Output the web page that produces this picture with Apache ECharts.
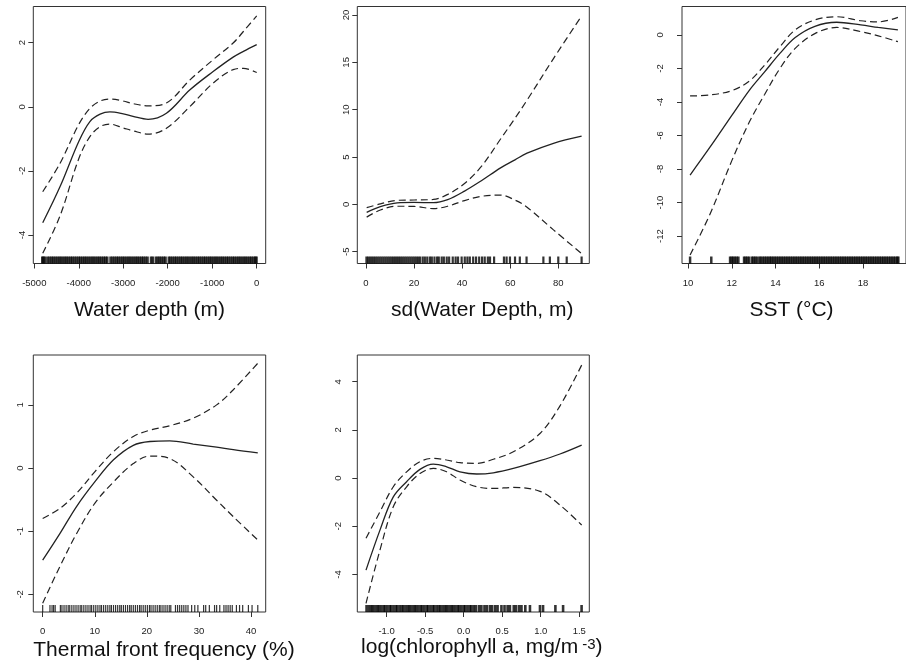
<!DOCTYPE html>
<html><head><meta charset="utf-8">
<script src="https://cdn.jsdelivr.net/npm/echarts@6/dist/echarts.min.js"></script>
<style>html,body{margin:0;padding:0;background:#fff}#c{width:906px;height:666px}</style>
</head><body><div id="c"></div>
<script>
// ---------- Panel 1: Water depth ----------
const depthX     = [-4810, -4420, -4000, -3750, -3520, -3300, -3000, -2780, -2440, -2030, -1500, -980, -530, -300, 0];
const depthFit   = [-3.62, -2.49, -1.08, -0.46, -0.23, -0.16, -0.22, -0.30, -0.39, -0.20, 0.53, 1.10, 1.55, 1.73, 1.94];
const depthUpper = [-2.65, -1.76, -0.55, -0.05, 0.18, 0.24, 0.18, 0.10, 0.03, 0.12, 0.84, 1.47, 1.99, 2.35, 2.84];
const depthLower = [-4.57, -3.40, -1.62, -0.93, -0.62, -0.54, -0.66, -0.75, -0.85, -0.67, 0.01, 0.74, 1.16, 1.20, 1.07];
const depthRug   = [-4820,-4795,-4765,-4705,-4660,-4615,-4575,-4530,-4485,-4440,-4400,-4355,-4310,-4270,-4225,-4180,-4140,-4095,-4050,-4005,-3965,-3920,-3875,-3835,-3790,-3745,-3700,-3660,-3615,-3570,-3530,-3485,-3440,-3400,-3360,-3285,-3240,-3195,-3150,-3110,-3065,-3020,-2980,-2935,-2890,-2850,-2805,-2760,-2715,-2675,-2630,-2585,-2545,-2500,-2455,-2375,-2335,-2265,-2220,-2180,-2135,-2090,-2050,-1975,-1935,-1890,-1845,-1805,-1760,-1715,-1675,-1630,-1585,-1545,-1500,-1455,-1415,-1370,-1325,-1285,-1240,-1195,-1155,-1110,-1065,-1025,-980,-935,-895,-850,-805,-765,-720,-675,-635,-590,-545,-505,-460,-415,-375,-330,-285,-245,-200,-155,-115,-70,-30,-5];
const depthXTicks = [-5000, -4000, -3000, -2000, -1000, 0];
const depthYTicks = [-4, -2, 0, 2];

// ---------- Panel 2: sd(Water Depth) ----------
const sdX     = [0.3, 6, 13, 20, 28, 34, 41, 48, 56, 62, 67, 78, 89.7];
const sdFit   = [-0.85, -0.25, 0.15, 0.20, 0.18, 0.50, 1.40, 2.50, 3.85, 4.70, 5.40, 6.45, 7.20];
const sdUpper = [-0.35, 0.05, 0.42, 0.46, 0.52, 1.05, 2.20, 4.00, 6.90, 9.10, 11.0, 15.4, 19.9];
const sdLower = [-1.35, -0.60, -0.20, -0.22, -0.45, -0.20, 0.40, 0.85, 0.97, 0.45, -0.30, -2.70, -5.20];
const sdRug   = [0.2,0.9,1.7,2.5,3.3,4.1,4.9,5.7,6.5,7.3,8.1,8.9,9.7,10.5,11.3,12.1,12.9,13.7,14.5,15.3,16.1,16.9,17.7,18.5,19.3,20.1,20.9,21.7,22.5,23.6,24.5,25.5,26.6,27.4,28.5,29.6,30.3,31.5,32.4,33.6,34.6,36.1,37.3,38.3,39.8,41.1,42.2,43.2,44.6,45.8,47.1,48.3,49.4,50.7,51.6,53.3,57.4,58.5,59.9,62,64,66.8,73.8,76.5,80,83.5,89.7];
const sdXTicks = [0, 20, 40, 60, 80];
const sdYTicks = [-5, 0, 5, 10, 15, 20];

// ---------- Panel 3: SST ----------
const sstX     = [10.09, 11, 12, 12.8, 13.5, 14.2, 14.9, 15.8, 16.8, 17.9, 18.7, 19.6];
const sstFit   = [-8.36, -6.70, -4.80, -3.30, -2.20, -1.10, -0.15, 0.52, 0.76, 0.60, 0.45, 0.30];
const sstUpper = [-3.64, -3.58, -3.32, -2.75, -1.80, -0.70, 0.30, 0.90, 1.09, 0.85, 0.78, 1.05];
const sstLower = [-13.13, -10.70, -7.50, -5.20, -3.55, -2.00, -0.80, 0.08, 0.45, 0.20, -0.05, -0.40];
const sstRug   = [10.09,11.06,11.92,11.99,12.06,12.14,12.22,12.3,12.56,12.63,12.71,12.79,12.92,12.99,13.07,13.15,13.26,13.33,13.42,13.5,13.58,13.66,13.74,13.81,13.89,13.97,14.05,14.13,14.21,14.29,14.37,14.45,14.53,14.61,14.69,14.77,14.85,14.93,15.01,15.09,15.17,15.25,15.33,15.41,15.49,15.57,15.65,15.73,15.81,15.89,15.97,16.05,16.13,16.21,16.29,16.37,16.45,16.53,16.61,16.69,16.77,16.85,16.93,17.01,17.09,17.17,17.25,17.33,17.41,17.49,17.57,17.65,17.73,17.81,17.89,17.97,18.05,18.13,18.21,18.29,18.37,18.45,18.53,18.61,18.69,18.77,18.85,18.93,19.01,19.09,19.17,19.25,19.33,19.41,19.49,19.57,19.62];
const sstXTicks = [10, 12, 14, 16, 18];
const sstYTicks = [-12, -10, -8, -6, -4, -2, 0];

// ---------- Panel 4: Thermal front frequency ----------
const tffX     = [0, 3.3, 6.5, 10, 13.6, 17.4, 20.6, 24.4, 28.9, 33.4, 36.6, 41.3];
const tffFit   = [-1.46, -1.04, -0.61, -0.22, 0.13, 0.36, 0.42, 0.43, 0.38, 0.33, 0.29, 0.24];
const tffUpper = [-0.80, -0.64, -0.40, -0.06, 0.26, 0.50, 0.60, 0.67, 0.79, 1.00, 1.24, 1.66];
const tffLower = [-2.14, -1.56, -1.04, -0.56, -0.22, 0.07, 0.19, 0.15, -0.14, -0.51, -0.77, -1.14];
const tffRug   = [0,1.4,1.8,2.1,2.4,3.4,3.7,4.1,4.5,4.9,5.2,5.6,6,6.4,6.8,7.2,7.5,7.9,8.3,8.7,9.1,9.4,9.8,10.2,10.6,11,11.3,11.7,12.1,12.5,12.9,13.2,13.6,14,14.4,14.8,15.1,15.5,15.9,16.3,16.7,17,17.4,17.8,18.2,18.6,18.9,19.3,19.7,20.1,20.5,20.8,21.2,21.6,22,22.4,22.7,23.1,23.5,23.9,24.3,24.6,25.5,25.9,26.3,26.7,27.1,27.5,27.9,28.6,29.2,29.8,30.9,31.3,32,33,33.4,34,34.8,35.2,35.6,36,36.4,37.2,37.8,38.4,39.5,40.2,41.3];
const tffXTicks = [0, 10, 20, 30, 40];
const tffYTicks = [-2, -1, 0, 1];

// ---------- Panel 5: log(chlorophyll a) ----------
const chlX     = [-1.267, -1.086, -0.913, -0.74, -0.567, -0.394, -0.221, -0.048, 0.169, 0.385, 0.644, 0.99, 1.25, 1.531];
const chlFit   = [-3.82, -2.16, -0.78, -0.15, 0.36, 0.58, 0.47, 0.26, 0.17, 0.22, 0.40, 0.72, 1.00, 1.37];
const chlUpper = [-2.50, -1.40, -0.36, 0.26, 0.68, 0.82, 0.75, 0.64, 0.61, 0.78, 1.09, 1.85, 3.00, 4.69];
const chlLower = [-5.20, -2.99, -1.19, -0.36, 0.19, 0.40, 0.26, -0.08, -0.36, -0.43, -0.39, -0.55, -1.12, -1.95];
const chlRug   = [-1.26,-1.23,-1.2,-1.18,-1.15,-1.12,-1.1,-1.07,-1.04,-1.02,-0.99,-0.96,-0.94,-0.91,-0.88,-0.86,-0.83,-0.8,-0.78,-0.75,-0.72,-0.7,-0.67,-0.64,-0.62,-0.59,-0.56,-0.54,-0.51,-0.48,-0.46,-0.43,-0.4,-0.38,-0.35,-0.32,-0.3,-0.27,-0.24,-0.22,-0.19,-0.16,-0.14,-0.11,-0.08,-0.06,-0.03,0,0.02,0.05,0.08,0.1,0.13,0.16,0.2,0.23,0.27,0.3,0.34,0.37,0.41,0.44,0.49,0.53,0.57,0.6,0.65,0.68,0.72,0.75,0.8,0.86,0.99,1.03,1.19,1.29,1.53];
const chlXTicks = [-1.0, -0.5, 0.0, 0.5, 1.0, 1.5];
const chlYTicks = [-4, -2, 0, 2, 4];

const FONT = '"Liberation Sans", Arial, Helvetica, sans-serif';

const panels = [
  { x: depthX, fit: depthFit, up: depthUpper, lo: depthLower, rug: depthRug, xTicks: depthXTicks, yTicks: depthYTicks,
    name: 'Water depth (m)', grid: { left: 33.3, top: 6.5, width: 232.4, height: 257 },
    xMin: -5022, xMax: 202, yMin: -4.89, yMax: 3.13, yMargin: 6, xMargin: 15, nameGap: 36, namePad: [0, 0, 0, 0], rugW: 2.6 },
  { x: sdX, fit: sdFit, up: sdUpper, lo: sdLower, rug: sdRug, xTicks: sdXTicks, yTicks: sdYTicks,
    name: 'sd(Water Depth, m)', grid: { left: 357.3, top: 6.5, width: 232, height: 257 },
    xMin: -3.6, xMax: 92.9, yMin: -6.25, yMax: 20.9, yMargin: 6, xMargin: 15, nameGap: 36, namePad: [0, 0, 0, 18], rugW: 2.2 },
  { x: sstX, fit: sstFit, up: sstUpper, lo: sstLower, rug: sstRug, xTicks: sstXTicks, yTicks: sstYTicks,
    name: 'SST (°C)', grid: { left: 682, top: 6.5, width: 232, height: 257 },
    xMin: 9.72, xMax: 19.97, yMin: -13.64, yMax: 1.70, yMargin: 17, xMargin: 15, nameGap: 36, namePad: [0, 5, 0, 0], rugW: 2.5 },
  { x: tffX, fit: tffFit, up: tffUpper, lo: tffLower, rug: tffRug, xTicks: tffXTicks, yTicks: tffYTicks,
    name: 'Thermal front frequency (%)', grid: { left: 33.3, top: 355, width: 232.4, height: 257 },
    xMin: -1.8, xMax: 42.82, yMin: -2.28, yMax: 1.79, yMargin: 7.5, xMargin: 14, nameGap: 28, namePad: [0, 0, 0, 29], rugW: 1.2 },
  { x: chlX, fit: chlFit, up: chlUpper, lo: chlLower, rug: chlRug, xTicks: chlXTicks, yTicks: chlYTicks,
    name: 'log(chlorophyll a, mg/m{sup|-3})', grid: { left: 357.3, top: 355, width: 232, height: 257 },
    xMin: -1.38, xMax: 1.63, yMin: -5.56, yMax: 5.11, yMargin: 14, xMargin: 14, nameGap: 21, namePad: [0, 0, 0, 17], rugW: 2.6,
    xFmt: v => v.toFixed(1), rich: { sup: { fontSize: 15, verticalAlign: 'top', padding: [0, 0, 0, 4], fontFamily: FONT, color: '#111' } } }
];

const grids = [], xAxes = [], yAxes = [], series = [];
panels.forEach((p, i) => {
  grids.push(Object.assign({ show: true, borderColor: '#333', borderWidth: 1, backgroundColor: 'transparent' }, p.grid));
  const nts = { fontSize: 21, color: '#111', fontFamily: FONT, padding: p.namePad };
  if (p.rich) nts.rich = p.rich;
  xAxes.push({
    type: 'value', gridIndex: i, min: p.xMin, max: p.xMax, position: 'bottom',
    axisLine: { show: false, onZero: false }, splitLine: { show: false },
    axisTick: { show: true, length: 5, inside: false, customValues: p.xTicks, lineStyle: { color: '#333', width: 1 } },
    axisLabel: { customValues: p.xTicks, margin: p.xMargin, fontSize: 9.5, color: '#222', fontFamily: FONT,
      formatter: p.xFmt || (v => String(v)) },
    name: p.name, nameLocation: 'middle', nameGap: p.nameGap, nameTextStyle: nts
  });
  yAxes.push({
    type: 'value', gridIndex: i, min: p.yMin, max: p.yMax, position: 'left',
    axisLine: { show: false, onZero: false }, splitLine: { show: false },
    axisTick: { show: true, length: 5, inside: false, customValues: p.yTicks, lineStyle: { color: '#333', width: 1 } },
    axisLabel: { customValues: p.yTicks, rotate: 90, margin: p.yMargin, fontSize: 9.5, color: '#222', fontFamily: FONT,
      formatter: v => String(v) }
  });
  const mk = arr => p.x.map((x, k) => [x, arr[k]]);
  series.push({ type: 'line', xAxisIndex: i, yAxisIndex: i, data: mk(p.fit), symbol: 'none', showSymbol: false,
    smooth: 0.35, silent: true, lineStyle: { color: '#222', width: 1.3 } });
  series.push({ type: 'line', xAxisIndex: i, yAxisIndex: i, data: mk(p.up), symbol: 'none', showSymbol: false,
    smooth: 0.35, silent: true, lineStyle: { color: '#222', width: 1.2, type: [7, 4] } });
  series.push({ type: 'line', xAxisIndex: i, yAxisIndex: i, data: mk(p.lo), symbol: 'none', showSymbol: false,
    smooth: 0.35, silent: true, lineStyle: { color: '#222', width: 1.2, type: [7, 4] } });
  series.push({ type: 'scatter', xAxisIndex: i, yAxisIndex: i, data: p.rug.map(v => [v, p.yMin]),
    symbol: 'rect', symbolSize: [p.rugW, 7], symbolOffset: [0, -3.5], clip: false, silent: true,
    itemStyle: { color: '#000' } });
});

const chart = echarts.init(document.getElementById('c'), null, { renderer: 'canvas' });
chart.setOption({
  animation: false,
  backgroundColor: '#fff',
  grid: grids, xAxis: xAxes, yAxis: yAxes, series: series
});
</script>
</body></html>
